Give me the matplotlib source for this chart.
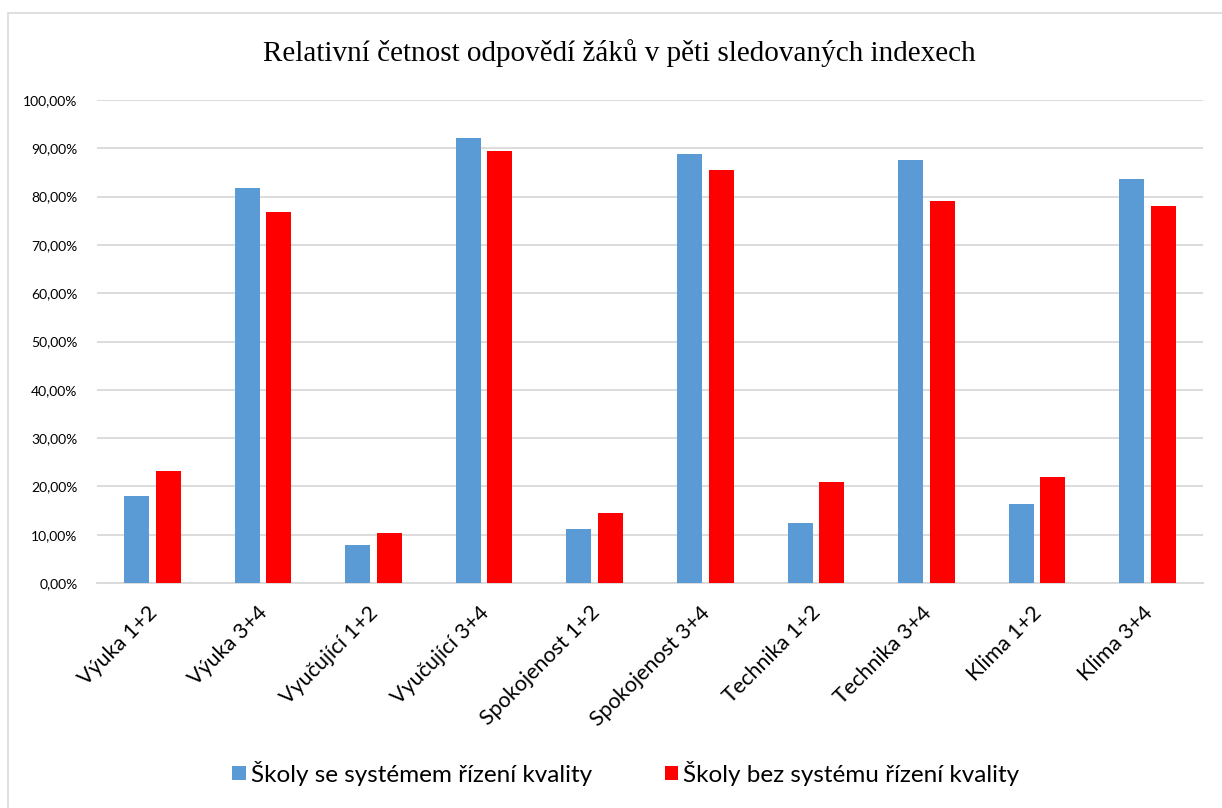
import matplotlib.pyplot as plt
import matplotlib.patches as patches
import matplotlib.transforms as mtransforms
import numpy as np
from matplotlib.ticker import FuncFormatter

# Category labels and values (percent)
categories = ['Výuka 1+2', 'Výuka 3+4', 'Vyučující 1+2', 'Vyučující 3+4',
              'Spokojenost 1+2', 'Spokojenost 3+4', 'Technika 1+2',
              'Technika 3+4', 'Klima 1+2', 'Klima 3+4']
with_system = [18.1, 81.8, 7.8, 92.2, 11.1, 88.9, 12.5, 87.5, 16.4, 83.6]
without_system = [23.2, 76.8, 10.4, 89.5, 14.5, 85.5, 21.0, 79.0, 22.0, 78.0]
series_labels = ['Školy se systémem řízení kvality',
                 'Školy bez systému řízení kvality']

BLUE = '#5B9BD5'
RED = '#FF0000'
GRID = '#D9D9D9'

plt.rcParams['font.family'] = ['Lato', 'DejaVu Sans']

fig = plt.figure(figsize=(12.22, 8.08), dpi=100)
ax = fig.add_axes([0.0794, 0.2785, 0.9051, 0.5977])

x = np.arange(len(categories))
width = 0.226
offset = 0.143
ax.bar(x - offset, with_system, width, color=BLUE, label=series_labels[0], zorder=3)
ax.bar(x + offset, without_system, width, color=RED, label=series_labels[1], zorder=3)

ax.set_xlim(-0.5, len(categories) - 0.5)
ax.set_ylim(0, 100)
ax.set_yticks(range(0, 101, 10))
ax.yaxis.set_major_formatter(FuncFormatter(lambda v, _: f'{v:.2f}'.replace('.', ',') + '%'))
ax.tick_params(axis='y', length=0, pad=14, labelsize=10, labelcolor='#000000')
ax.grid(axis='y', color=GRID, linewidth=1.3, zorder=0)

ax.set_xticks(x)
ax.set_xticklabels(categories, rotation=45, ha='right', va='top',
                   rotation_mode='anchor', fontsize=15.5)
ax.tick_params(axis='x', length=0, pad=14)
shift = mtransforms.ScaledTranslation(-4 / 72, 0, fig.dpi_scale_trans)
for lbl in ax.get_xticklabels():
    lbl.set_transform(lbl.get_transform() + shift)

for side in ['top', 'right', 'left']:
    ax.spines[side].set_visible(False)
ax.spines['bottom'].set_color(GRID)
ax.spines['bottom'].set_linewidth(1.3)

fig.text(0.507, 0.935, 'Relativní četnost odpovědí žáků v pěti sledovaných indexech',
         ha='center', va='center', fontsize=21, family='Liberation Serif')

fig.legend(loc='center', bbox_to_anchor=(0.512, 0.043), ncol=2, frameon=False,
           fontsize=17.5, handlelength=0.55, handleheight=0.55, handletextpad=0.2,
           columnspacing=3.0)

# chart frame
fig.patches.append(patches.Rectangle((8 / 1222, -0.01), 1.1, 1 - 13 / 808 + 0.01,
                                     transform=fig.transFigure, fill=False,
                                     edgecolor='#D9D9D9', linewidth=1.2))

fig.savefig('out.png', dpi=100, facecolor='white')
